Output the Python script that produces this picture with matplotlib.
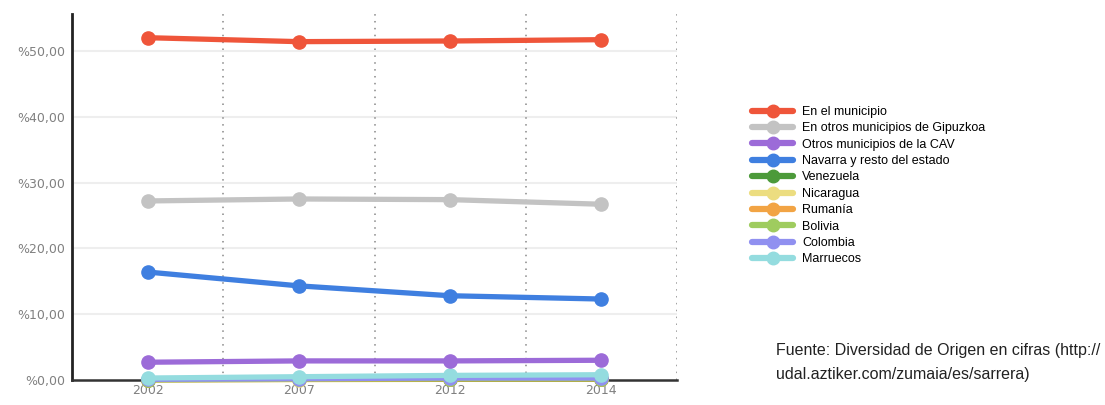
import matplotlib.pyplot as plt

years = ["2002", "2007", "2012", "2014"]
series_names = ["En el municipio", "En otros municipios de Gipuzkoa", "Otros municipios de la CAV",
                "Navarra y resto del estado", "Venezuela", "Nicaragua", "Rumanía", "Bolivia",
                "Colombia", "Marruecos"]
en_municipio = [52.0, 51.4, 51.5, 51.7]
otros_gipuzkoa = [27.2, 27.5, 27.4, 26.7]
otros_cav = [2.7, 2.9, 2.9, 3.0]
navarra_estado = [16.4, 14.3, 12.8, 12.3]
venezuela = [0.05, 0.1, 0.1, 0.1]
nicaragua = [0.0, 0.05, 0.1, 0.1]
rumania = [0.05, 0.1, 0.15, 0.15]
bolivia = [0.05, 0.15, 0.2, 0.2]
colombia = [0.1, 0.2, 0.3, 0.3]
marruecos = [0.3, 0.5, 0.7, 0.8]
colors = ["#ef553a", "#c3c3c3", "#9c6bd8", "#3f7fe0", "#4c9a3a",
          "#ecdd80", "#f2a444", "#9fcc5f", "#9090f0", "#94dcdf"]

values = [en_municipio, otros_gipuzkoa, otros_cav, navarra_estado, venezuela,
          nicaragua, rumania, bolivia, colombia, marruecos]

plt.rcParams['font.family'] = ['Liberation Sans', 'DejaVu Sans']

fig = plt.figure(figsize=(11.05, 4.05), dpi=100)
ax = fig.add_axes([72 / 1105, 25 / 405, 605 / 1105, 366 / 405])

x = range(len(years))
# small series first so the big ones sit on top
order = [5, 4, 6, 7, 8, 9, 2, 3, 1, 0]
handles = {}
for i in order:
    h, = ax.plot(x, values[i], color=colors[i], lw=3.8, marker='o', ms=9.5,
                 markeredgecolor=colors[i], solid_capstyle='round', clip_on=False,
                 zorder=3)
    handles[i] = h

ax.set_xlim(-0.5, 3.5)
ax.set_ylim(0, 55.6)
ax.set_xticks(list(x))
ax.set_xticklabels(years)
ax.set_yticks([0, 10, 20, 30, 40, 50])
ax.set_yticklabels(["%0,00", "%10,00", "%20,00", "%30,00", "%40,00", "%50,00"])
ax.tick_params(length=0, labelcolor="#808080")
ax.tick_params(axis='y', pad=5)
ax.tick_params(axis='x', pad=3)
for lab in ax.get_xticklabels() + ax.get_yticklabels():
    lab.set_family(['DejaVu Sans'])
    lab.set_fontsize(9)

for yv in [10, 20, 30, 40, 50]:
    ax.axhline(yv, color="#eeeeee", lw=1.5, zorder=1)
for xv in [0.5, 1.5, 2.5, 3.5]:
    ax.axvline(xv, color="#888888", lw=1.1, ls=(0, (1, 3.5)), zorder=1)

ax.spines['top'].set_visible(False)
ax.spines['right'].set_visible(False)
ax.spines['left'].set_color("#222222")
ax.spines['left'].set_linewidth(2)
ax.spines['bottom'].set_color("#333333")
ax.spines['bottom'].set_linewidth(1.8)

leg = fig.legend([handles[i] for i in range(10)], series_names, loc='upper left',
                 bbox_to_anchor=(752 / 1105, 1 - 106 / 405), frameon=False,
                 fontsize=9, handlelength=3.3, handletextpad=0.7, labelspacing=0.35,
                 borderpad=0, borderaxespad=0)
for line in leg.get_lines():
    line.set_linewidth(4.5)
    line.set_markersize(9)

fig.text(776 / 1105, 1 - 350 / 405, "Fuente: Diversidad de Origen en cifras (http://",
         fontsize=11.5, color="#222222", va='center')
fig.text(776 / 1105, 1 - 375 / 405, "udal.aztiker.com/zumaia/es/sarrera)",
         fontsize=11.5, color="#222222", va='center')

fig.savefig("out.png", dpi=100)
